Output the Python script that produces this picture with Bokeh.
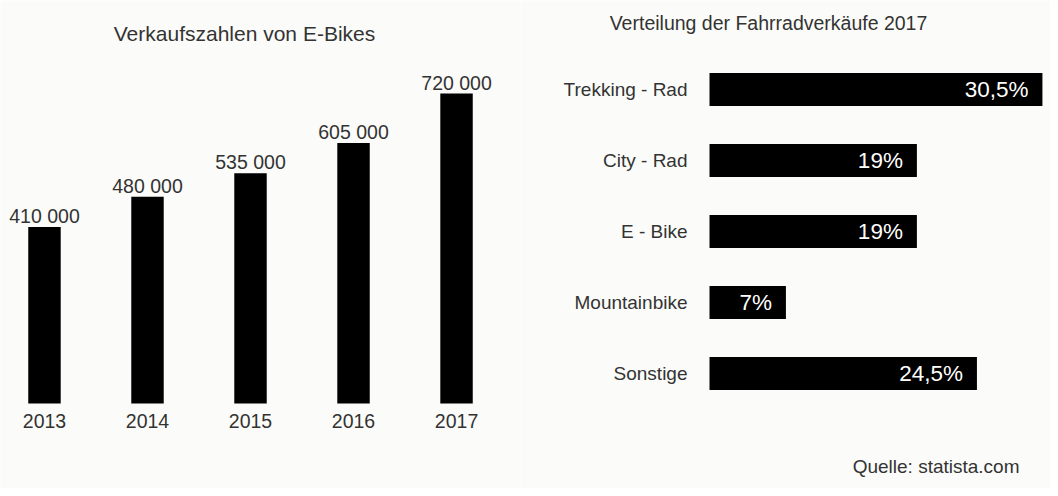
from bokeh.plotting import figure
from bokeh.layouts import row
from bokeh.models import Range1d, ColumnDataSource, Label
from bokeh.core.properties import value
from bokeh.embed import file_html
from bokeh.resources import INLINE

# ---- data ----
years = [2013, 2014, 2015, 2016, 2017]
sales = [410000, 480000, 535000, 605000, 720000]

categories = ["Trekking - Rad", "City - Rad", "E - Bike", "Mountainbike", "Sonstige"]
shares = [30.5, 19, 19, 7, 24.5]
share_labels = ["30,5%", "19%", "19%", "7%", "24,5%"]

title_left = "Verkaufszahlen von E-Bikes"
title_right = "Verteilung der Fahrradverkäufe 2017"
source_text = "Quelle: statista.com"

BG = "#fbfcf9"
TXT = "#333333"
FONT = "Liberation Sans"

# ---- left chart ----
W1, H = 520, 488
left = figure(width=W1, height=H, output_backend="svg", toolbar_location=None,
              x_axis_location=None, y_axis_location=None,
              x_range=Range1d(2012.573, 2017.621),
              y_range=Range1d(-197445, 936121),
              min_border=0, background_fill_color=BG, border_fill_color=BG)
left.outline_line_color = None
left.grid.visible = False

src1 = ColumnDataSource(dict(
    year=years, sales=sales,
    lab=[f"{v:,}".replace(",", " ") for v in sales],
    ylab=[str(y) for y in years],
    zero=[0] * len(years),
))
left.vbar(x="year", top="sales", bottom=0, width=0.315, source=src1,
          fill_color="black", line_color=None)
left.text(x="year", y="sales", text="lab", source=src1, text_align="center",
          text_baseline="alphabetic", y_offset=-11, text_color=TXT,
          text_font=value(FONT), text_font_size="19.5px")
left.text(x="year", y="zero", text="ylab", source=src1, text_align="center",
          text_baseline="middle", y_offset=18, text_color=TXT,
          text_font=value(FONT), text_font_size="19.5px")
left.add_layout(Label(x=244, y=455, x_units="screen", y_units="screen",
                      text=title_left, text_align="center", text_baseline="middle",
                      text_color=TXT, text_font=FONT, text_font_size="21px"))

# ---- right chart ----
W2 = 530
idx = list(range(len(categories)))
right = figure(width=W2, height=H, output_backend="svg", toolbar_location=None,
               x_axis_location=None, y_axis_location=None,
               x_range=Range1d(-17.316, 31.24),
               y_range=Range1d(5.620, -1.2535),
               min_border=0, background_fill_color=BG, border_fill_color=BG)
right.outline_line_color = None
right.grid.visible = False

src2 = ColumnDataSource(dict(
    pos=idx, share=shares, cat=categories, lab=share_labels,
    zero=[0] * len(categories),
))
right.hbar(y="pos", right="share", left=0, height=0.465, source=src2,
           fill_color="black", line_color=None)
right.text(x="zero", y="pos", text="cat", source=src2, text_align="right",
           text_baseline="middle", x_offset=-22, text_color=TXT,
           text_font=value(FONT), text_font_size="19px")
right.text(x="share", y="pos", text="lab", source=src2, text_align="right",
           text_baseline="middle", x_offset=-14, text_color="white",
           text_font=value(FONT), text_font_size="22.5px")
right.add_layout(Label(x=248, y=466, x_units="screen", y_units="screen",
                       text=title_right, text_align="center", text_baseline="middle",
                       text_color=TXT, text_font=FONT, text_font_size="19.5px"))
right.add_layout(Label(x=499, y=22, x_units="screen", y_units="screen",
                       text=source_text, text_align="right", text_baseline="middle",
                       text_color=TXT, text_font=FONT, text_font_size="19px"))

layout = row(left, right, spacing=0)
open("out.html", "w").write(file_html(layout, INLINE))
